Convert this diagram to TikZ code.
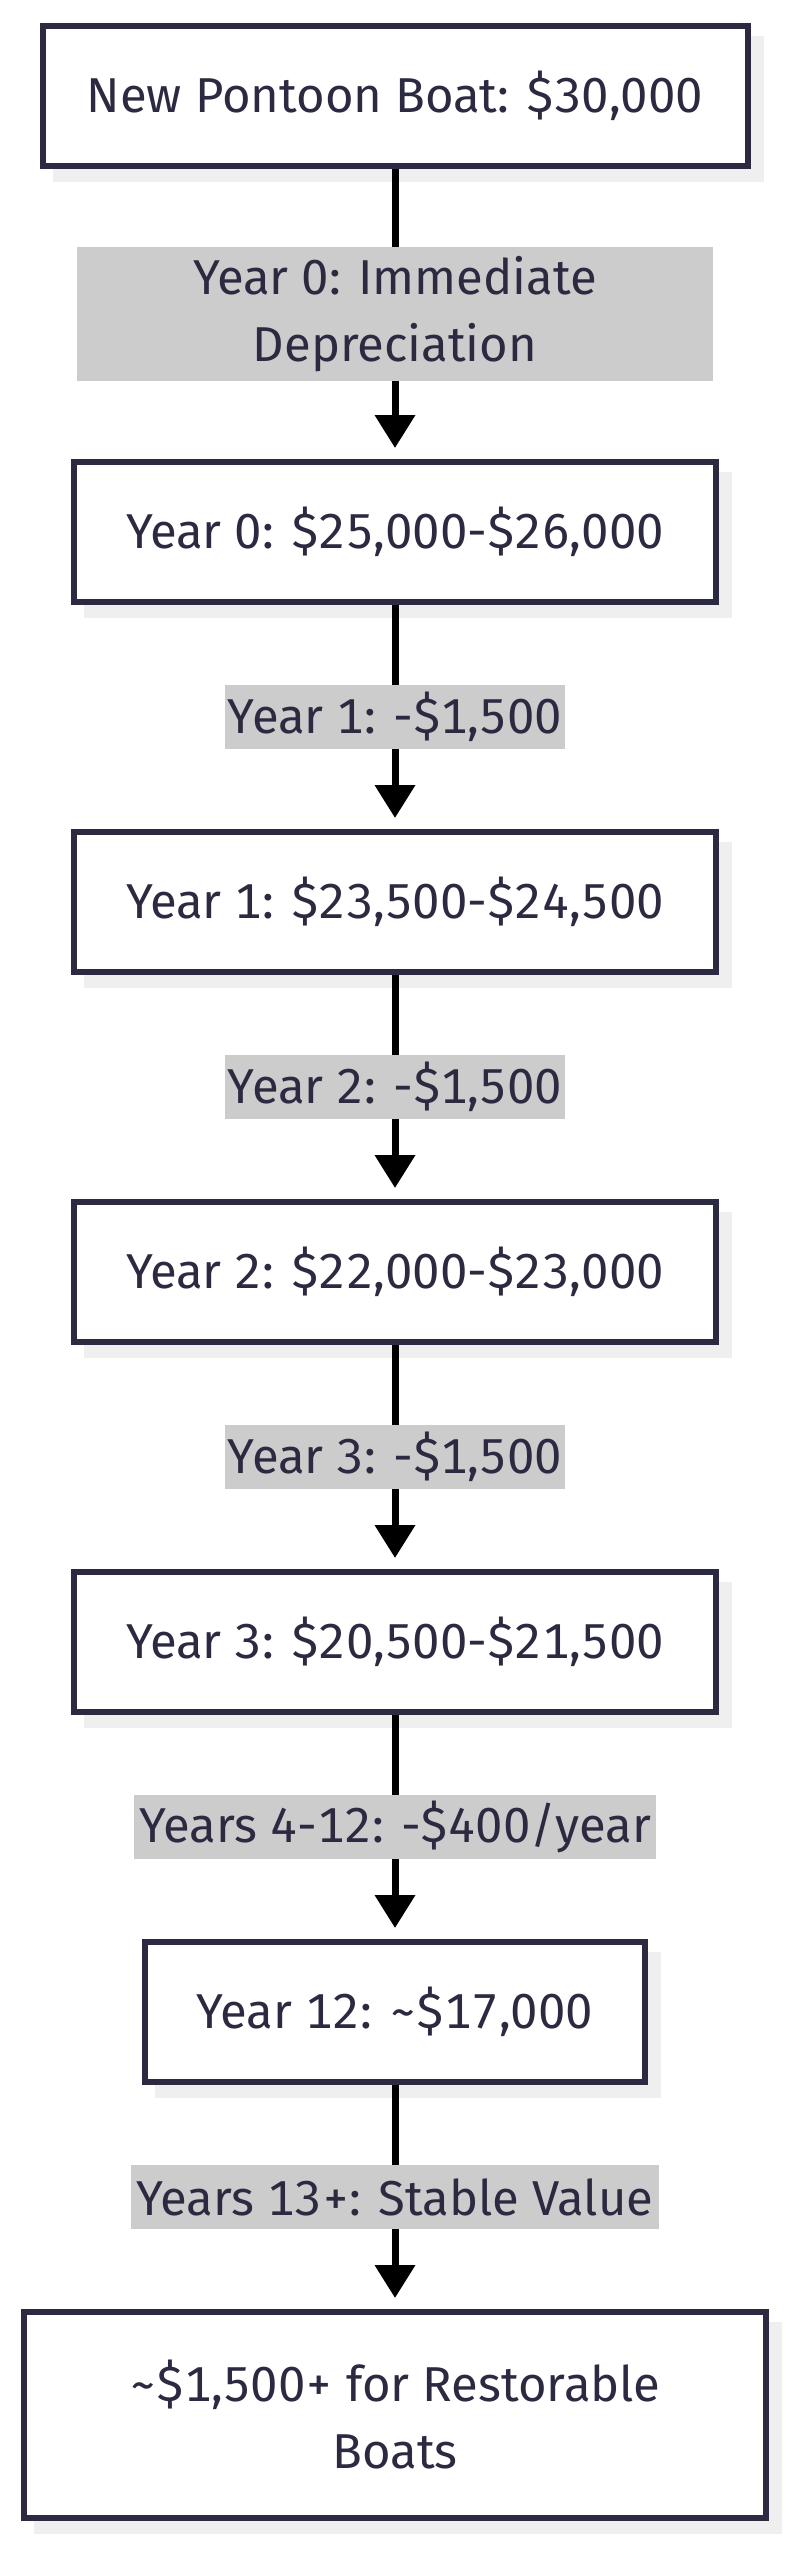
\documentclass[tikz,border=0pt]{standalone}
\usepackage{fontspec}
\setmainfont{Fira Sans}[Numbers=Monospaced]
\usetikzlibrary{arrows.meta,shadows}
\definecolor{boxline}{HTML}{2C2A41}
\definecolor{txt}{HTML}{2C2A41}
\definecolor{lblfill}{HTML}{CCCCCC}
\definecolor{shade}{HTML}{EFEFEF}
\begin{document}
\begin{tikzpicture}[x=0.5pt,y=-0.5pt,
  stage/.style={draw=boxline,line width=3pt,fill=white,text=txt,minimum height=70pt,
    inner sep=0pt,align=center,font=\fontsize{24.5}{33.5}\selectfont,
    general shadow={fill=shade,draw=shade,line width=3pt,shadow xshift=6.5pt,shadow yshift=-6.5pt}},
  drop/.style={fill=lblfill,text=txt,inner sep=0pt,minimum height=32pt,align=center,
    font=\fontsize{24.5}{33.5}\selectfont},
  flow/.style={draw=black,line width=3.5pt,-{Triangle[width=19.5pt,length=16.5pt]},shorten >=5.5pt}]
\useasboundingbox (0,0) rectangle (795,2560);

% value boxes
\node[stage,minimum width=352.5pt] (new) at (395,96) {New Pontoon Boat: \$30,000};
\node[stage,minimum width=321pt] (y0) at (395,532) {Year 0: \$25,000-\$26,000};
\node[stage,minimum width=321pt] (y1) at (395,902) {Year 1: \$23,500-\$24,500};
\node[stage,minimum width=321pt] (y2) at (395,1272) {Year 2: \$22,000-\$23,000};
\node[stage,minimum width=321pt] (y3) at (395,1642) {Year 3: \$20,500-\$21,500};
\node[stage,minimum width=250pt] (y12) at (395,2012) {Year 12: \textasciitilde\$17,000};
\node[stage,minimum width=371pt,minimum height=103pt] (rest) at (395,2415) {\textasciitilde\$1,500+ for Restorable\\Boats};

% depreciation steps
\draw[flow] (new) -- node[drop,minimum width=318pt,minimum height=67pt] (d0) {Year 0: Immediate\\Depreciation} (y0);
\draw[flow] (y0) -- node[drop,minimum width=170pt] (d1) {Year 1: -\$1,500} (y1);
\draw[flow] (y1) -- node[drop,minimum width=170pt] (d2) {Year 2: -\$1,500} (y2);
\draw[flow] (y2) -- node[drop,minimum width=170pt] (d3) {Year 3: -\$1,500} (y3);
\draw[flow] (y3) -- node[drop,minimum width=261pt] (d4) {Years 4-12: -\$400/year} (y12);
\draw[flow] (y12) -- node[drop,minimum width=264pt] (d5) {Years 13+: Stable Value} (rest);
\end{tikzpicture}
\end{document}
